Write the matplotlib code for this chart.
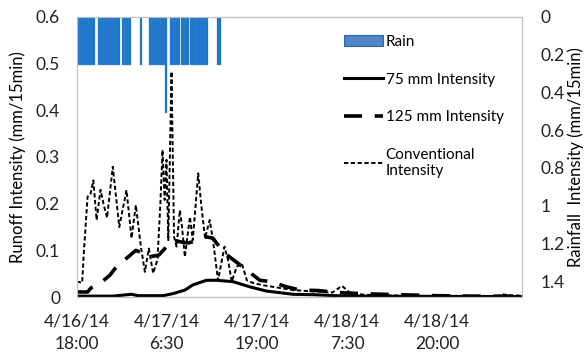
import matplotlib.pyplot as plt
import numpy as np
from matplotlib.patches import Patch
from matplotlib.lines import Line2D

plt.rcParams['font.family'] = ['Lato', 'DejaVu Sans']

# hours after 4/16/14 18:00
conv_h = [0, 0.75, 1.0, 1.5, 1.9, 2.3, 2.75, 3.3, 3.7, 4.2, 5.0, 5.9, 6.4, 6.9, 7.6,
          8.2, 8.9, 9.45, 10.0, 10.6, 11.2, 11.6, 11.9, 12.2, 12.45, 12.7, 13.15, 13.5,
          13.85, 14.3, 14.6, 15.0, 15.7, 16.1, 16.85, 17.3, 17.8, 18.45, 18.9, 19.6,
          20.5, 21.0, 21.5, 22.2, 22.9, 23.6, 24.5, 26, 28, 30, 33, 35.5, 36.8, 38,
          40, 45, 50, 55, 58.5, 59, 60, 61.8]
conv_v = [0.033, 0.031, 0.10, 0.215, 0.22, 0.25, 0.165, 0.23, 0.20, 0.17, 0.279, 0.15,
          0.19, 0.229, 0.126, 0.197, 0.108, 0.054, 0.104, 0.051, 0.08, 0.20, 0.315,
          0.208, 0.294, 0.122, 0.483, 0.129, 0.108, 0.186, 0.151, 0.086, 0.172, 0.122,
          0.265, 0.194, 0.126, 0.165, 0.122, 0.036, 0.108, 0.079, 0.033, 0.065, 0.072,
          0.036, 0.03, 0.025, 0.02, 0.015, 0.012, 0.01, 0.024, 0.008, 0.005, 0.003,
          0.002, 0.002, 0.002, 0.006, 0.004, 0.003]

i125_h = [0, 1.5, 2.0, 3.3, 4.6, 5.5, 6.9, 8.2, 9.0, 10.0, 11.4, 13.3, 14.5, 15.5, 16.5,
          18, 18.9, 20.3, 21.2, 23.0, 25.4, 27.0, 29.1, 31.0, 33.5, 36, 40, 45, 50, 55, 61.8]
i125_v = [0.011, 0.011, 0.02, 0.03, 0.047, 0.065, 0.083, 0.10, 0.095, 0.086, 0.09, 0.122,
          0.118, 0.116, 0.12, 0.129, 0.126, 0.097, 0.086, 0.065, 0.036, 0.033, 0.022,
          0.015, 0.014, 0.010, 0.007, 0.005, 0.003, 0.002, 0.002]

i75_h = [0, 5, 7.6, 8.5, 12, 13.5, 15, 16.1, 18, 19.4, 21.7, 24, 26.3, 30, 33, 36, 40, 61.8]
i75_v = [0.002, 0.002, 0.006, 0.003, 0.003, 0.008, 0.015, 0.026, 0.036, 0.036, 0.033,
         0.022, 0.013, 0.006, 0.005, 0.003, 0.002, 0.001]

# rain per 15-min slot, mm
rain_mm = ([0.254] * 10 + [0] * 2 + [0.254] * 12 + [0] + [0.254] * 5 + [0] * 5 + [0.254]
           + [0] * 4 + [0.254] * 9 + [0.508] + [0] * 2 + [0.254] * 5 + [0] + [0.254] * 4
           + [0] + [0.254] * 10 + [0] * 5 + [0.254] * 2)
rain_h = np.arange(len(rain_mm)) * 0.25

xtick_pos = [0, 12.5, 25, 37.5, 50]
xtick_lab = ["4/16/14\n18:00", "4/17/14\n6:30", "4/17/14\n19:00", "4/18/14\n7:30", "4/18/14\n20:00"]

fig = plt.figure(figsize=(5.86, 3.52), dpi=100)
ax = fig.add_axes([0.131, 0.156, 0.76, 0.796])
ax2 = ax.twinx()

ax.plot(i75_h, i75_v, color="black", lw=2.2, solid_capstyle="butt")
ax.plot(i125_h, i125_v, color="black", lw=2.6, dashes=(5, 3.5))
ax.plot(conv_h, conv_v, color="black", lw=1.4, dashes=(2.2, 1.3))

ax2.bar(rain_h, rain_mm, width=0.27, align="edge", color="#1170c8",
        edgecolor="#5d97d6", lw=0.25)

ax.set_xlim(0, 61.8)
ax.set_ylim(0, 0.6)
ax.set_yticks(np.arange(0, 0.61, 0.1))
ax.set_yticklabels(["0", "0.1", "0.2", "0.3", "0.4", "0.5", "0.6"])
ax.set_xticks(xtick_pos)
ax.set_xticklabels(xtick_lab, linespacing=1.45)
ax2.set_ylim(1.485, 0)
ax2.set_yticks(np.arange(0, 1.41, 0.2))
ax2.set_yticklabels(["0", "0.2", "0.4", "0.6", "0.8", "1", "1.2", "1.4"])

for a in (ax, ax2):
    a.tick_params(length=0, labelsize=12.5, colors="#222222")
    for s in a.spines.values():
        s.set_color("#bfbfbf")
ax.tick_params(axis="x", pad=12)
ax.tick_params(axis="y", pad=12)
ax2.tick_params(axis="y", pad=13)

ax.set_ylabel("Runoff Intensity (mm/15min)", fontsize=12, labelpad=7)
ax2.set_ylabel("Rainfall  Intensity (mm/15min)", fontsize=12, labelpad=2)

handles = [Patch(facecolor="#4f86c6", edgecolor="#2f65a8", lw=0.8),
           Line2D([], [], color="black", lw=2.2),
           Line2D([], [], color="black", lw=2.6, dashes=(5, 3.5)),
           Line2D([], [], color="black", lw=1.4, dashes=(2.2, 1.3))]
labels = ["Rain", "75 mm Intensity", "125 mm Intensity", "Conventional\nIntensity"]
ax2.legend(handles, labels, loc="upper left", bbox_to_anchor=(0.57, 0.985), frameon=False,
           fontsize=11, handlelength=2.5, handletextpad=0.2, labelspacing=1.55)

fig.savefig("out.png", dpi=100)
